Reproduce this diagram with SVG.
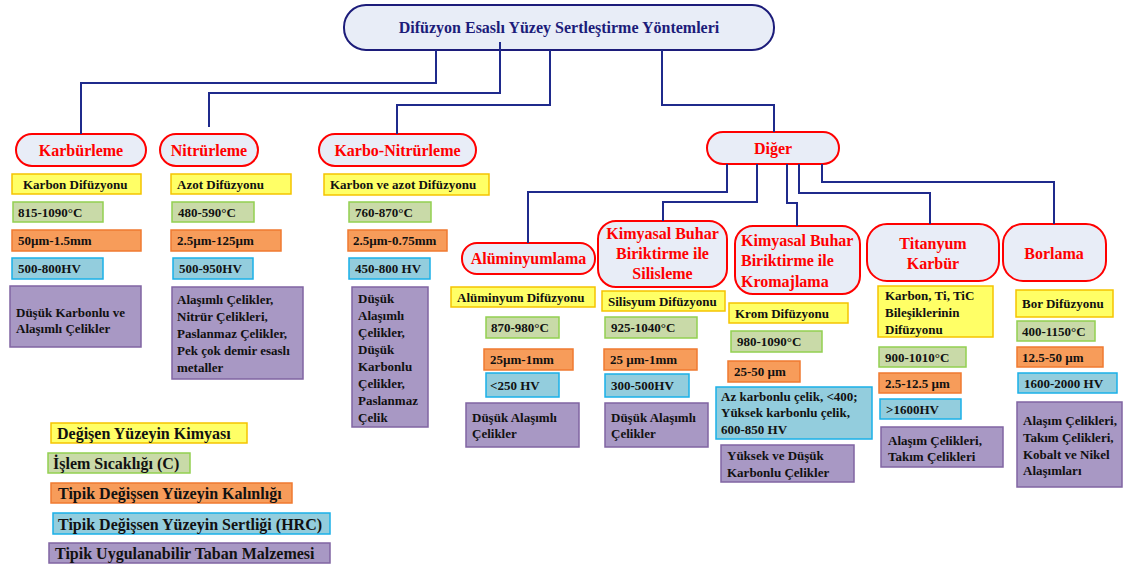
<svg xmlns="http://www.w3.org/2000/svg" width="1123" height="564" viewBox="0 0 1123 564">
<style>
text{font-family:"Liberation Serif","Times New Roman",serif;font-weight:bold}
.t{font-size:13px;fill:#111}
.lg{font-size:16px;fill:#111}
.n{font-size:16px;fill:#ff0000}
.rt{font-size:16px;fill:#1c1c7a}
.node{fill:#e8edf7;stroke:#ff0000;stroke-width:2}
.root{fill:#e8edf7;stroke:#1c1c7a;stroke-width:2}
.y{fill:#ffff66;stroke:#f5c400;stroke-width:1.5}
.g{fill:#c9daa8;stroke:#92d050;stroke-width:1.5}
.o{fill:#f79c5a;stroke:#f07a30;stroke-width:1.5}
.b{fill:#93cddd;stroke:#1ab0e8;stroke-width:1.5}
.p{fill:#a898c4;stroke:#8064a2;stroke-width:1.5}
.c{fill:none;stroke:#1f2a8c;stroke-width:2}
</style>

<g id="root">
<rect class="root" x="344" y="5" width="430" height="45" rx="22"/>
<text class="rt" x="559" y="33" text-anchor="middle">Difüzyon Esaslı Yüzey Sertleştirme Yöntemleri</text>
</g>

<g id="karburleme">
<rect class="node" x="16" y="134" width="130" height="32" rx="16"/>
<text class="n" x="81" y="155.5" text-anchor="middle">Karbürleme</text>
<rect class="y" x="12" y="174" width="129" height="20"/>
<text class="t" x="23" y="188.5">Karbon Difüzyonu</text>
<rect class="g" x="13" y="202" width="90" height="20"/>
<text class="t" x="18" y="216.5">815-1090°C</text>
<rect class="o" x="12" y="230" width="129" height="21"/>
<text class="t" x="18" y="245">50µm-1.5mm</text>
<rect class="b" x="12" y="258" width="91" height="21"/>
<text class="t" x="18" y="273">500-800HV</text>
<rect class="p" x="10" y="286" width="131" height="61"/>
<text class="t" x="16" y="316.5">Düşük Karbonlu ve<tspan x="16" dy="16">Alaşımlı Çelikler</tspan></text>
</g>

<g id="nitrurleme">
<rect class="node" x="160" y="134" width="98" height="32" rx="16"/>
<text class="n" x="209" y="155.5" text-anchor="middle">Nitrürleme</text>
<rect class="y" x="171" y="174" width="120" height="20"/>
<text class="t" x="177" y="188.5">Azot Difüzyonu</text>
<rect class="g" x="172" y="202" width="82" height="20"/>
<text class="t" x="178" y="216.5">480-590°C</text>
<rect class="o" x="171" y="230" width="110" height="21"/>
<text class="t" x="177" y="245">2.5µm-125µm</text>
<rect class="b" x="173" y="258" width="80" height="21"/>
<text class="t" x="179" y="273">500-950HV</text>
<rect class="p" x="172" y="287" width="131" height="92"/>
<text class="t" x="177" y="303.5">Alaşımlı Çelikler,<tspan x="177" dy="17">Nitrür Çelikleri,</tspan><tspan x="177" dy="17">Paslanmaz Çelikler,</tspan><tspan x="177" dy="17">Pek çok demir esaslı</tspan><tspan x="177" dy="17">metaller</tspan></text>
</g>

<g id="karbonitrurleme">
<rect class="node" x="319" y="134" width="157" height="32" rx="16"/>
<text class="n" x="397.5" y="155.5" text-anchor="middle">Karbo-Nitrürleme</text>
<rect class="y" x="324" y="174" width="165" height="21"/>
<text class="t" x="330" y="188.5">Karbon ve azot Difüzyonu</text>
<rect class="g" x="349" y="202" width="82" height="20"/>
<text class="t" x="355" y="216.5">760-870°C</text>
<rect class="o" x="348" y="230" width="99" height="21"/>
<text class="t" x="353" y="245">2.5µm-0.75mm</text>
<rect class="b" x="349" y="258" width="81" height="21"/>
<text class="t" x="355" y="273">450-800 HV</text>
<rect class="p" x="352" y="287" width="76" height="140"/>
<text class="t" x="358" y="302.5">Düşük<tspan x="358" dy="17">Alaşımlı</tspan><tspan x="358" dy="17">Çelikler,</tspan><tspan x="358" dy="17">Düşük</tspan><tspan x="358" dy="17">Karbonlu</tspan><tspan x="358" dy="17">Çelikler,</tspan><tspan x="358" dy="17">Paslanmaz</tspan><tspan x="358" dy="17">Çelik</tspan></text>
</g>

<g id="diger">
<rect class="node" x="707" y="132" width="132" height="32" rx="16"/>
<text class="n" x="773" y="153.5" text-anchor="middle">Diğer</text>
</g>

<g id="aluminyumlama">
<rect class="node" x="462" y="243" width="133" height="31" rx="15"/>
<text class="n" x="528.5" y="264" text-anchor="middle">Alüminyumlama</text>
<rect class="y" x="451" y="287" width="144" height="20"/>
<text class="t" x="457" y="301.5">Alüminyum Difüzyonu</text>
<rect class="g" x="486" y="317" width="73" height="21"/>
<text class="t" x="491" y="332">870-980°C</text>
<rect class="o" x="484" y="349" width="89" height="21"/>
<text class="t" x="490" y="364">25µm-1mm</text>
<rect class="b" x="486" y="373" width="73" height="24"/>
<text class="t" x="490" y="389.5">&lt;250 HV</text>
<rect class="p" x="466" y="403" width="113" height="44"/>
<text class="t" x="472" y="421.5">Düşük Alaşımlı<tspan x="472" dy="16">Çelikler</tspan></text>
</g>

<g id="silisleme">
<rect class="node" x="598" y="221" width="129" height="66" rx="18"/>
<text class="n" x="662.5" y="238.5" text-anchor="middle">Kimyasal Buhar<tspan x="662.5" dy="20">Biriktirme ile</tspan><tspan x="662.5" dy="20">Silisleme</tspan></text>
<rect class="y" x="602" y="291" width="123" height="20"/>
<text class="t" x="608" y="305.5">Silisyum Difüzyonu</text>
<rect class="g" x="605" y="317" width="92" height="21"/>
<text class="t" x="611" y="332">925-1040°C</text>
<rect class="o" x="604" y="349" width="93" height="21"/>
<text class="t" x="610" y="364">25 µm-1mm</text>
<rect class="b" x="605" y="374" width="84" height="23"/>
<text class="t" x="611" y="390">300-500HV</text>
<rect class="p" x="605" y="403" width="103" height="44"/>
<text class="t" x="611" y="421.5">Düşük Alaşımlı<tspan x="611" dy="16">Çelikler</tspan></text>
</g>

<g id="kromajlama">
<rect class="node" x="735" y="226" width="125" height="68" rx="18"/>
<text class="n" x="741" y="245.5">Kimyasal Buhar<tspan x="741" dy="20.5">Biriktirme ile</tspan><tspan x="741" dy="20.5">Kromajlama</tspan></text>
<rect class="y" x="729" y="303" width="119" height="20"/>
<text class="t" x="735" y="317.5">Krom Difüzyonu</text>
<rect class="g" x="731" y="331" width="91" height="21"/>
<text class="t" x="737" y="346">980-1090°C</text>
<rect class="o" x="728" y="361" width="72" height="21"/>
<text class="t" x="734" y="376">25-50 µm</text>
<rect class="b" x="716" y="387" width="156" height="52"/>
<text class="t" x="721" y="400.5">Az karbonlu çelik, &lt;400;<tspan x="721" dy="16.5">Yüksek karbonlu çelik,</tspan><tspan x="721" dy="16.5">600-850 HV</tspan></text>
<rect class="p" x="721" y="445" width="133" height="37"/>
<text class="t" x="727" y="459.5">Yüksek ve Düşük<tspan x="727" dy="17">Karbonlu Çelikler</tspan></text>
</g>

<g id="titanyumkarbur">
<rect class="node" x="867" y="224" width="132" height="57" rx="20"/>
<text class="n" x="933" y="248.5" text-anchor="middle">Titanyum<tspan x="933" dy="20">Karbür</tspan></text>
<rect class="y" x="878" y="286" width="115" height="51"/>
<text class="t" x="885" y="299.5">Karbon, Ti, TiC<tspan x="885" dy="17">Bileşiklerinin</tspan><tspan x="885" dy="17">Difüzyonu</tspan></text>
<rect class="g" x="879" y="347" width="87" height="20"/>
<text class="t" x="885" y="361.5">900-1010°C</text>
<rect class="o" x="879" y="373" width="82" height="20"/>
<text class="t" x="885" y="387.5">2.5-12.5 µm</text>
<rect class="b" x="880" y="399" width="81" height="20"/>
<text class="t" x="886" y="413.5">&gt;1600HV</text>
<rect class="p" x="881" y="427" width="122" height="40"/>
<text class="t" x="888" y="444.5">Alaşım Çelikleri,<tspan x="888" dy="16">Takım Çelikleri</tspan></text>
</g>

<g id="borlama">
<rect class="node" x="1003" y="224" width="103" height="57" rx="20"/>
<text class="n" x="1054" y="258.5" text-anchor="middle">Borlama</text>
<rect class="y" x="1016" y="290" width="97" height="27"/>
<text class="t" x="1022" y="307.5">Bor Difüzyonu</text>
<rect class="g" x="1017" y="321" width="78" height="20"/>
<text class="t" x="1022" y="335.5">400-1150°C</text>
<rect class="o" x="1017" y="347" width="86" height="20"/>
<text class="t" x="1022" y="361.5">12.5-50 µm</text>
<rect class="b" x="1018" y="373" width="99" height="20"/>
<text class="t" x="1024" y="387.5">1600-2000 HV</text>
<rect class="p" x="1017" y="402" width="105" height="85"/>
<text class="t" x="1023" y="424.5">Alaşım Çelikleri,<tspan x="1023" dy="17">Takım Çelikleri,</tspan><tspan x="1023" dy="17">Kobalt ve Nikel</tspan><tspan x="1023" dy="16">Alaşımları</tspan></text>
</g>

<g id="legend">
<rect class="y" x="51" y="423" width="196" height="20"/>
<text class="lg" x="57" y="439">Değişen Yüzeyin Kimyası</text>
<rect class="g" x="48" y="453" width="142" height="20"/>
<text class="lg" x="53" y="469">İşlem Sıcaklığı (C)</text>
<rect class="o" x="51" y="483" width="241" height="20"/>
<text class="lg" x="58" y="499">Tipik Değişsen Yüzeyin Kalınlığı</text>
<rect class="b" x="53" y="513" width="277" height="21"/>
<text class="lg" x="58" y="529.5">Tipik Değişsen Yüzeyin Sertliği (HRC)</text>
<rect class="p" x="49" y="543" width="281" height="20"/>
<text class="lg" x="55" y="559">Tipik Uygulanabilir Taban Malzemesi</text>
</g>

<g id="connectors">
<path class="c" d="M436,50 V83 H81 V134"/>
<path class="c" d="M500,42 V93 H209 V127"/>
<path class="c" d="M550,50 V105 H397 V134"/>
<path class="c" d="M662,50 V105 H774 V132"/>
<path class="c" d="M727,164 V192 H528 V243"/>
<path class="c" d="M757,164 V202 H663 V221"/>
<path class="c" d="M787,164 V203 H797 V226"/>
<path class="c" d="M799,164 V193 H930 V224"/>
<path class="c" d="M822,164 V182 H1054 V224"/>
</g>
</svg>
